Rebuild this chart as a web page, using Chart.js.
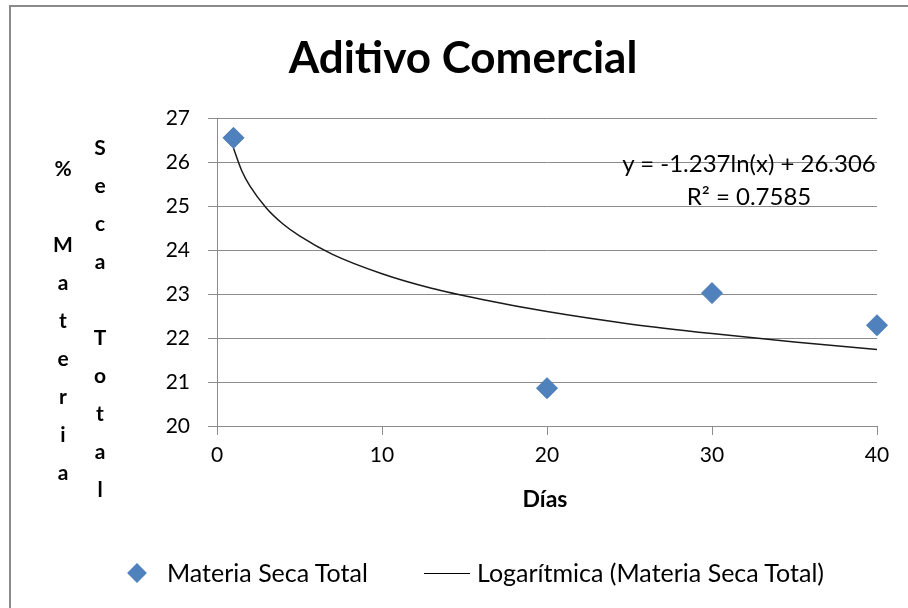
<!DOCTYPE html>
<html>
<head>
<meta charset="utf-8">
<script src="https://cdn.jsdelivr.net/npm/chart.js@4/dist/chart.umd.min.js"></script>
<style>
  body { margin: 0; background: #fff; font-family: Lato, "DejaVu Sans", sans-serif; }
  #wrap { position: relative; width: 908px; height: 608px; overflow: hidden; }
  #frame { position: absolute; left: 9px; top: 5px; width: 1000px; height: 700px;
           border-top: 2px solid #8a8a8a; border-left: 2px solid #8a8a8a; }
  canvas { position: absolute; left: 0; top: 0; }
  .txt { position: absolute; color: #000; white-space: nowrap; }
  #title { left: 0; width: 926px; top: 30px; text-align: center; font-weight: bold; font-size: 44px; line-height: 1.2; }
  .ycol { position: absolute; width: 30px; text-align: center; font-weight: bold; font-size: 21px; line-height: 38px; }
  #eq { left: 600px; width: 298px; top: 146px; text-align: center; font-size: 24px; line-height: 33px; }
  #xtitle { left: 495px; width: 100px; top: 485px; text-align: center; font-weight: bold; font-size: 23px; line-height: 1.2; }
  #legend { position: absolute; top: 557px; left: 0; font-size: 25px; line-height: 1.2; }
  .diamond { position: absolute; left: 130px; top: 9px; width: 14px; height: 14px; background: #4f81bd; transform: rotate(45deg); }
</style>
</head>
<body>
<div id="wrap">
  <div id="frame"></div>
  <canvas id="chart" width="908" height="608"></canvas>
  <div id="title" class="txt">Aditivo Comercial</div>
  <div class="ycol txt" style="left:48px; top:149px;">%<br>&nbsp;<br>M<br>a<br>t<br>e<br>r<br>i<br>a</div>
  <div class="ycol txt" style="left:85px; top:128px;">S<br>e<br>c<br>a<br>&nbsp;<br>T<br>o<br>t<br>a<br>l</div>
  <div id="eq" class="txt">y = -1.237ln(x) + 26.306<br>R² = 0.7585</div>
  <div id="xtitle" class="txt">Días</div>
  <div id="legend">
    <div class="diamond"></div>
    <span class="txt" style="left:167px; top:0;">Materia Seca Total</span>
    <span style="position:absolute; left:424px; top:16px; width:46px; height:0; border-top:1.5px solid #000;"></span>
    <span class="txt" style="left:477px; top:0;">Logarítmica (Materia Seca Total)</span>
  </div>
</div>
<script>
// measured points
const dias = [1, 20, 30, 40];
const materiaSeca = [26.55, 20.86, 23.02, 22.29];

// logarithmic trendline
const trendX = [1, 1.5, 2, 3, 4, 5, 7, 10, 13, 16, 20, 25, 30, 35, 40];
const trendY = [26.31, 25.80, 25.45, 24.95, 24.59, 24.32, 23.90, 23.46, 23.13, 22.88, 22.60, 22.32, 22.10, 21.91, 21.74];

const xTicks = [0, 10, 20, 30, 40];
const yTicks = [20, 21, 22, 23, 24, 25, 26, 27];

const gridColor = "#8c8c8c";
const tickFont = { family: "Lato, 'DejaVu Sans', sans-serif", size: 21 };

const ctx = document.getElementById("chart").getContext("2d");
new Chart(ctx, {
  type: "scatter",
  data: {
    datasets: [
      {
        label: "Materia Seca Total",
        data: dias.map((d, i) => ({ x: d, y: materiaSeca[i] })),
        pointStyle: "rectRot",
        pointRadius: 10.5,
        backgroundColor: "#4f81bd",
        borderColor: "#4a7ab3",
        borderWidth: 1,
        clip: false,
        order: 0
      },
      {
        label: "Logarítmica (Materia Seca Total)",
        data: trendX.map((x, i) => ({ x: x, y: trendY[i] })),
        showLine: true,
        pointRadius: 0,
        borderColor: "#1a1a1a",
        borderWidth: 1.5,
        cubicInterpolationMode: "monotone",
        order: 1
      }
    ]
  },
  options: {
    responsive: false,
    animation: false,
    layout: { padding: { top: 118, right: 31, left: 0, bottom: 0 } },
    plugins: { legend: { display: false }, title: { display: false }, tooltip: { enabled: false } },
    scales: {
      x: {
        type: "linear",
        min: 0,
        max: 40,
        afterBuildTicks: s => { s.ticks = xTicks.map(v => ({ value: v })); },
        afterFit: s => { s.height = 182; },
        grid: { drawOnChartArea: false, drawTicks: true, tickLength: 9, color: gridColor },
        border: { color: gridColor, width: 1 },
        ticks: { font: tickFont, color: "#000", padding: 8, maxRotation: 0 }
      },
      y: {
        type: "linear",
        min: 20,
        max: 27,
        afterBuildTicks: s => { s.ticks = yTicks.map(v => ({ value: v })); },
        afterFit: s => { s.width = 217; },
        grid: { drawTicks: true, tickLength: 9, color: gridColor },
        border: { color: gridColor, width: 1 },
        ticks: { font: tickFont, color: "#000", padding: 18 }
      }
    }
  }
});
</script>
</body>
</html>
